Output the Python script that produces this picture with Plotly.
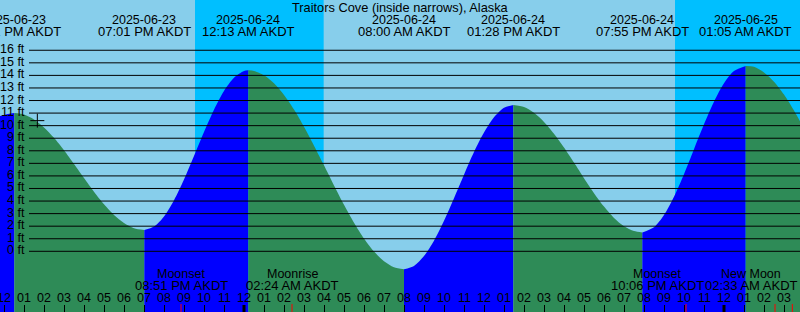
import pandas as pd
import plotly.graph_objects as go

# ---------------- data ----------------
title = "Traitors Cove (inside narrows), Alaska"

# half-hourly tide heights (ft), starting 2025-06-23 11:00 AKDT
sample_start = "2025-06-23 11:00"
sample_heights = [
    10.2, 10.6, 10.85, 11.0, 10.88, 10.49, 9.86, 9.03, 8.04, 6.95,
    5.83, 4.74, 3.74, 2.89, 2.25, 1.84, 1.70, 1.97, 2.78, 4.07,
    5.72, 7.59, 9.50, 11.27, 12.76, 13.81, 14.34, 14.35, 14.01, 13.37,
    12.44, 11.28, 9.91, 8.41, 6.84, 5.24, 3.70, 2.28, 1.02, -0.02,
    -0.79, -1.27, -1.43, -1.16, -0.38, 0.85, 2.43, 4.23, 6.10, 7.90,
    9.45, 10.66, 11.42, 11.65, 11.48, 11.02, 10.30, 9.36, 8.26, 7.06,
    5.82, 4.63, 3.56, 2.66, 2.00, 1.61, 1.51, 1.91, 2.88, 4.34,
    6.14, 8.13, 10.11, 11.91, 13.37, 14.34, 14.74, 14.68, 14.24, 13.50,
    12.47, 11.20, 9.76]

# high / low tides
ext_times = ["2025-06-23 12:31", "2025-06-23 19:01", "2025-06-24 00:13",
             "2025-06-24 08:00", "2025-06-24 13:28", "2025-06-24 19:55",
             "2025-06-25 01:05"]
ext_heights = [11.0, 1.7, 14.4, -1.43, 11.65, 1.5, 14.75]
ext_dates = ["2025-06-23", "2025-06-23", "2025-06-24", "2025-06-24",
             "2025-06-24", "2025-06-24", "2025-06-25"]
ext_labels = ["12:31 PM AKDT", "07:01 PM AKDT", "12:13 AM AKDT", "08:00 AM AKDT",
              "01:28 PM AKDT", "07:55 PM AKDT", "01:05 AM AKDT"]

# night periods (sunset -> sunrise)
night_start = ["2025-06-23 21:33", "2025-06-24 21:33"]
night_end = ["2025-06-24 03:59", "2025-06-25 03:59"]

# moon events
moon_times = ["2025-06-23 20:51", "2025-06-24 02:24", "2025-06-24 22:06", "2025-06-25 02:33"]
moon_names = ["Moonset", "Moonrise", "Moonset", "New Moon"]
moon_labels = ["08:51 PM AKDT", "02:24 AM AKDT", "10:06 PM AKDT", "02:33 AM AKDT"]
moon_tick_times = moon_times + ["2025-06-25 03:25"]

# current-time mark
now_time = "2025-06-23 13:40"
now_height = 10.4

ft_levels = list(range(0, 17))
midnights = ["2025-06-24 00:00", "2025-06-25 00:00"]

x_range = ["2025-06-23 11:48", "2025-06-25 03:48"]
y_range = [-4.83, 20.0]

# ---------------- styles / layout ----------------
FONT = "Liberation Sans"
DAY = "#87CEEB"
NIGHT = "#00BFFF"
FLOOD = "#0000FF"
EBB = "#2E8B57"
W, H = 800, 312
moon_label_xshift = [0, 0, -29, -24]   # labels nudged left to avoid overlap / edge

# ---------------- build curve ----------------
s_times = pd.date_range(sample_start, periods=len(sample_heights), freq="30min")
e_times = pd.to_datetime(ext_times)
pts = []
for t, h in zip(s_times, sample_heights):
    if min(abs((t - e).total_seconds()) for e in e_times) > 600:
        pts.append((t, h, False))
for t, h in zip(e_times, ext_heights):
    pts.append((t, h, True))
pts.sort(key=lambda p: p[0])

segments = []
cur = []
for p in pts:
    cur.append(p)
    if p[2]:
        segments.append(cur)
        cur = [p]
if len(cur) > 1:
    segments.append(cur)

fig = go.Figure()
floor = y_range[0] - 1
for seg in segments:
    xs = [p[0] for p in seg]
    ys = [p[1] for p in seg]
    color = FLOOD if ys[-1] > ys[0] else EBB
    fig.add_trace(go.Scatter(x=xs, y=[floor] * len(xs), mode="lines",
                             line=dict(width=0), hoverinfo="skip", showlegend=False))
    fig.add_trace(go.Scatter(x=xs, y=ys, mode="lines",
                             line=dict(width=0, shape="spline", smoothing=0.8),
                             fill="tonexty", fillcolor=color,
                             hoverinfo="skip", showlegend=False))

fig.add_trace(go.Scatter(x=[now_time], y=[now_height], mode="markers",
                         marker=dict(symbol="cross-thin", size=10,
                                     line=dict(width=1, color="black")),
                         hoverinfo="skip", showlegend=False))

shapes = []
for a, b in zip(night_start, night_end):
    shapes.append(dict(type="rect", xref="x", yref="paper", x0=a, x1=b, y0=0, y1=1,
                       fillcolor=NIGHT, line=dict(width=0), layer="below"))
for v in ft_levels:
    shapes.append(dict(type="line", xref="paper", yref="y", x0=29 / W, x1=1, y0=v, y1=v,
                       line=dict(color="black", width=1), layer="above"))
for m in midnights:
    shapes.append(dict(type="line", xref="x", yref="paper", x0=m, x1=m, y0=0, y1=7 / H,
                       line=dict(color="black", width=3), layer="above"))
for m in moon_tick_times:
    shapes.append(dict(type="line", xref="x", yref="paper", x0=m, x1=m, y0=0, y1=8 / H,
                       line=dict(color="red", width=1), layer="above"))

ann = []
def txt(x, y, text, size, xref="x", xshift=0):
    ann.append(dict(x=x, y=1 - y / H, xref=xref, yref="paper", text=text,
                    showarrow=False, xanchor="center", yanchor="middle", xshift=xshift,
                    font=dict(family=FONT, size=size, color="black")))

txt(0.5, 7.5, title, 12.8, xref="paper")
for t, d, l in zip(ext_times, ext_dates, ext_labels):
    txt(t, 19.5, d, 12.5)
    txt(t, 31.5, l, 13)
for t, n, l, dx in zip(moon_times, moon_names, moon_labels, moon_label_xshift):
    txt(t, 273.5, n, 12.5, xshift=dx)
    txt(t, 285, l, 13, xshift=dx)
for t in pd.date_range("2025-06-23 11:00", "2025-06-25 04:00", freq="h"):
    txt(t, 298, t.strftime("%I"), 12.5)
for v in ft_levels:
    ann.append(dict(x=27 / W, y=v, xref="paper", yref="y", text=f"{v} ft",
                    showarrow=False, xanchor="right", yanchor="middle", yshift=1,
                    font=dict(family=FONT, size=12.5, color="black")))

fig.update_layout(
    width=W, height=H, margin=dict(l=0, r=0, t=0, b=0),
    paper_bgcolor=DAY, plot_bgcolor=DAY, showlegend=False,
    font=dict(family=FONT, size=12.5, color="black"),
    shapes=shapes, annotations=ann,
    xaxis=dict(range=x_range, showgrid=False, zeroline=False, showline=False,
               ticks="inside", ticklen=7, tickwidth=1, tickcolor="black",
               dtick=3600000, tick0="2025-06-23 00:00", showticklabels=False,
               fixedrange=True),
    yaxis=dict(range=y_range, showgrid=False, zeroline=False, showline=False,
               showticklabels=False, ticks="", fixedrange=True),
)

fig.write_html("out.html")
